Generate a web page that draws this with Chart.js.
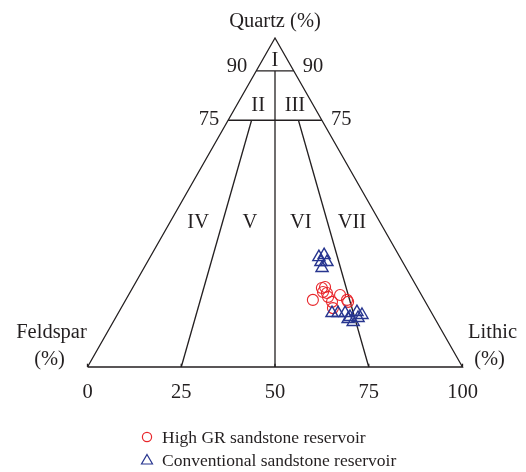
<!DOCTYPE html>
<html>
<head>
<meta charset="utf-8">
<script src="https://cdn.jsdelivr.net/npm/chart.js@4/dist/chart.umd.min.js"></script>
<style>
  html, body { margin: 0; padding: 0; background: #ffffff; }
  canvas { display: block; }
</style>
</head>
<body>
<canvas id="qfl" width="526" height="472"></canvas>
<script>
// Sample compositions (%): quartz, feldspar, lithic fragments
const highGR_Q = [20.4, 24.0, 24.3, 22.8, 22.5, 21.3, 19.8, 21.9, 20.4, 19.8, 17.9];
const highGR_F = [29.7, 25.5, 24.5, 25.8, 24.9, 25.2, 24.9, 21.7, 20.6, 20.6, 25.6];
const highGR_L = [49.9, 50.5, 51.2, 51.4, 52.6, 53.5, 55.3, 56.4, 59.0, 59.6, 56.5];

const conv_Q = [33.4, 34.0, 31.9, 31.9, 30.1, 16.4, 16.4, 16.4, 15.2, 16.7, 13.7, 14.9, 15.8, 14.6];
const conv_F = [21.6, 19.9, 21.8, 20.2, 22.4, 26.6, 25.0, 23.1, 22.4, 19.8, 22.3, 20.4, 18.9, 23.2];
const conv_L = [45.0, 46.1, 46.3, 47.9, 47.5, 57.0, 58.6, 60.5, 62.4, 63.5, 64.0, 64.7, 65.3, 62.2];

// Feldspar–lithic base scale
const baseTicks = [0, 25, 50, 75, 100];
const baseTickLabels = ['0', '25', '50', '75', '100'];
// Quartz levels marked on both sides
const quartzLevels = [90, 75];
const quartzLabels = ['90', '75'];
// Lithic share L/(F+L) of the class boundaries below Q = 75
const ratioBounds = [25, 75];
// Class numbers
const classNames = ['I', 'II', 'III', 'IV', 'V', 'VI', 'VII'];

const seriesNames = ['High GR sandstone reservoir', 'Conventional sandstone reservoir'];

const INK = '#231f20';
const RED = '#e8262b';
const BLUE = '#27358f';
const FONT = '"Liberation Serif", "DejaVu Serif", serif';

// ternary (Q, F, L) -> plane (x along base, y = quartz)
function toXY(q, f, l) {
  const s = q + f + l;
  q = q / s * 100; l = l / s * 100;
  return { x: l + q / 2, y: q };
}
// point on a quartz level with a given lithic share (0..100) of the non-quartz part
function atLevel(q, share) {
  return { x: q / 2 + (100 - q) * share / 100, y: q };
}

const highPts = highGR_Q.map((q, i) => toXY(q, highGR_F[i], highGR_L[i]));
const convPts = conv_Q.map((q, i) => toXY(q, conv_F[i], conv_L[i]));

function lineSet(points) {
  return {
    type: 'scatter', data: points, showLine: true, pointRadius: 0,
    borderColor: INK, borderWidth: 1.3, fill: false, order: 10, clip: false
  };
}

const lines = [
  lineSet([atLevel(0, 0), atLevel(100, 0), atLevel(0, 100), atLevel(0, 0)]),
  ...quartzLevels.map(q => lineSet([atLevel(q, 0), atLevel(q, 100)])),
  lineSet([atLevel(0, 50), atLevel(90, 50)]),
  ...ratioBounds.map(r => lineSet([atLevel(0, r), atLevel(75, r)])),
  ...baseTicks.map(t => lineSet([{ x: t, y: 0 }, { x: t, y: 1 }]))
];

const labelsPlugin = {
  id: 'qflLabels',
  afterDraw(chart) {
    const ctx = chart.ctx;
    const xs = chart.scales.x, ys = chart.scales.y;
    const px = v => xs.getPixelForValue(v);
    const py = v => ys.getPixelForValue(v);
    ctx.save();
    ctx.fillStyle = INK;
    ctx.textBaseline = 'alphabetic';
    ctx.font = '20.5px ' + FONT;

    // apex title
    ctx.textAlign = 'center';
    ctx.fillText('Quartz (%)', px(50), py(100) - 11);

    // base scale numbers
    baseTicks.forEach((t, i) => ctx.fillText(baseTickLabels[i], px(t), py(0) + 31));

    // quartz levels on both edges
    quartzLevels.forEach((q, i) => {
      const yb = py(q) + (q === 90 ? 1 : 5);
      ctx.textAlign = 'right';
      ctx.fillText(quartzLabels[i], px(atLevel(q, 0).x) - 9, yb);
      ctx.textAlign = 'left';
      ctx.fillText(quartzLabels[i], px(atLevel(q, 100).x) + 9, yb);
    });

    // class numbers
    ctx.textAlign = 'center';
    const anchors = [
      [50, 93.5], [45.5, 80], [55.3, 80],
      [29.5, 44.5], [43.3, 44.5], [56.9, 44.5], [70.5, 44.5]
    ];
    classNames.forEach((n, i) => ctx.fillText(n, px(anchors[i][0]), py(anchors[i][1]) + 7));

    // corner names
    ctx.fillText('Feldspar', px(0) - 36, py(0) - 29);
    ctx.fillText('(%)', px(0) - 38, py(0) - 2);
    ctx.fillText('Lithic', px(100) + 30, py(0) - 29);
    ctx.fillText('(%)', px(100) + 27, py(0) - 2);

    // legend
    ctx.font = '17.5px ' + FONT;
    ctx.textAlign = 'left';
    const lx = 147, rows = [437, 460];
    ctx.lineWidth = 1.2;
    ctx.strokeStyle = RED;
    ctx.beginPath();
    ctx.arc(lx, rows[0], 4.6, 0, Math.PI * 2);
    ctx.stroke();
    ctx.strokeStyle = BLUE;
    ctx.beginPath();
    ctx.moveTo(lx, rows[1] - 5.5);
    ctx.lineTo(lx + 5.5, rows[1] + 4);
    ctx.lineTo(lx - 5.5, rows[1] + 4);
    ctx.closePath();
    ctx.stroke();
    ctx.fillStyle = INK;
    ctx.fillText(seriesNames[0], 162, rows[0] + 6);
    ctx.fillText(seriesNames[1], 162, rows[1] + 6);
    ctx.restore();
  }
};

new Chart(document.getElementById('qfl'), {
  type: 'scatter',
  data: {
    datasets: [
      {
        label: seriesNames[0], data: highPts, pointStyle: 'circle', pointRadius: 5.5,
        backgroundColor: 'rgba(0,0,0,0)', borderColor: RED, borderWidth: 1.1, order: 1, clip: false
      },
      {
        label: seriesNames[1], data: convPts, pointStyle: 'triangle', pointRadius: 7,
        backgroundColor: 'rgba(0,0,0,0)', borderColor: BLUE, borderWidth: 1.4, order: 0, clip: false
      },
      ...lines
    ]
  },
  options: {
    responsive: false,
    animation: false,
    events: [],
    layout: { padding: { left: 87.5, right: 63.5, top: 38, bottom: 105 } },
    scales: {
      x: { type: 'linear', min: 0, max: 100, display: false },
      y: { type: 'linear', min: 0, max: 100, display: false }
    },
    plugins: { legend: { display: false }, tooltip: { enabled: false } }
  },
  plugins: [labelsPlugin]
});
</script>
</body>
</html>
